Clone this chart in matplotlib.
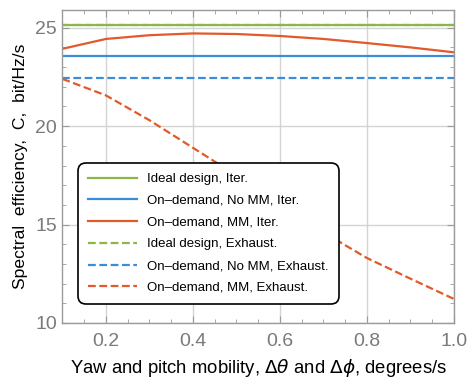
import matplotlib
matplotlib.use('Agg')
import matplotlib.pyplot as plt
from matplotlib.ticker import MultipleLocator

# data
mobility = [0.1, 0.2, 0.3, 0.4, 0.5, 0.6, 0.7, 0.8, 0.9, 1.0]
ideal_iter = [25.12] * 10
ideal_exh = [25.12] * 10
nomm_iter = [23.56] * 10
nomm_exh = [22.46] * 10
mm_iter = [23.93, 24.43, 24.62, 24.71, 24.68, 24.58, 24.43, 24.22, 24.0, 23.75]
mm_exh = [22.4, 21.56, 20.3, 18.9, 17.5, 16.0, 14.6, 13.3, 12.25, 11.22]

labels = ['Ideal design, Iter.', 'On\u2013demand, No MM, Iter.', 'On\u2013demand, MM, Iter.',
          'Ideal design, Exhaust.', 'On\u2013demand, No MM, Exhaust.', 'On\u2013demand, MM, Exhaust.']

green = '#8DB548'
blue = '#3B8ED6'
orange = '#E2592A'

plt.rcParams['font.family'] = ['Liberation Sans', 'DejaVu Sans']
plt.rcParams['mathtext.fontset'] = 'dejavusans'

fig = plt.figure(figsize=(4.68, 3.79), dpi=100)
ax = fig.add_axes([0.1335, 0.1478, 0.8365, 0.8258])

lw = 1.6
dash = (3.5, 1.6)
ax.plot(mobility, ideal_iter, color=green, lw=lw, label=labels[0])
ax.plot(mobility, nomm_iter, color=blue, lw=lw, label=labels[1])
ax.plot(mobility, mm_iter, color=orange, lw=lw, label=labels[2])
ax.plot(mobility, ideal_exh, color=green, lw=lw, dashes=dash, label=labels[3])
ax.plot(mobility, nomm_exh, color=blue, lw=lw, dashes=dash, label=labels[4])
ax.plot(mobility, mm_exh, color=orange, lw=lw, dashes=dash, label=labels[5])

ax.set_xlim(0.1, 1.0)
ax.set_ylim(10, 25.9)
ax.xaxis.set_minor_locator(MultipleLocator(0.05))
ax.yaxis.set_major_locator(MultipleLocator(5))
ax.yaxis.set_minor_locator(MultipleLocator(1))
ax.set_xticks([0.2, 0.4, 0.6, 0.8, 1.0])
ax.set_xticklabels(['0.2', '0.4', '0.6', '0.8', '1.0'])
ax.grid(True, which='major', color='#d4d4d4', lw=1)
ax.set_axisbelow(True)

for s in ax.spines.values():
    s.set_color('#9a9a9a')
    s.set_linewidth(1)
ax.tick_params(which='both', direction='in', top=True, right=True, colors='#9a9a9a',
               labelcolor='#7a7a7a', labelsize=14)
ax.tick_params(which='major', length=5)
ax.tick_params(which='minor', length=3)
ax.tick_params(axis='x', pad=7.5)
ax.tick_params(axis='y', pad=4)

ax.set_xlabel(r'Yaw and pitch mobility, $\Delta\theta$ and $\Delta\phi$, degrees/s', fontsize=13.3)
ax.xaxis.set_label_coords(0.502, -0.108)
ax.set_ylabel('Spectral  efficiency,  C,  bit/Hz/s', fontsize=12.6, labelpad=5)

leg = ax.legend(loc='upper left', bbox_to_anchor=(0.04, 0.511), borderaxespad=0,
                fontsize=9.5, handlelength=3.7, labelspacing=0.72, handletextpad=0.8,
                borderpad=0.75, fancybox=True, framealpha=1, edgecolor='black')
leg.get_frame().set_linewidth(1.2)
leg.get_frame().set_boxstyle('round', pad=0.0, rounding_size=0.6)

fig.savefig('out.png', dpi=100)
